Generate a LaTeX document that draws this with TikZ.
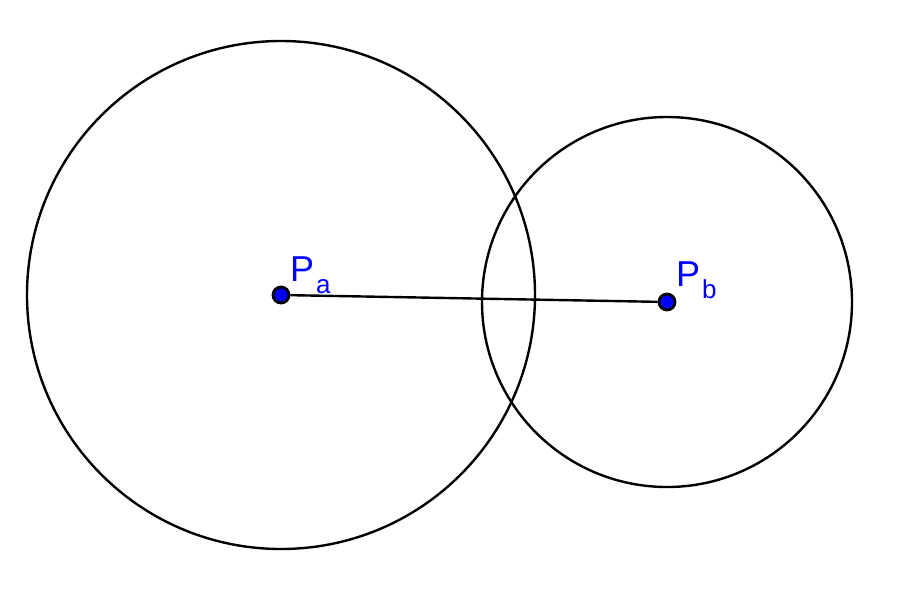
\documentclass[tikz,border=0pt]{standalone}
\usepackage{fontspec}
\setmainfont{Liberation Sans}
\begin{document}
\begin{tikzpicture}[x=1pt,y=-1pt,
  curve/.style={line width=2.4pt,draw=black},
  pt/.style={circle,fill=blue,draw=black,line width=2.8pt,minimum size=16pt,inner sep=0pt},
  lbl/.style={text=blue,font=\fontsize{36}{36}\selectfont,inner sep=0pt,anchor=base west}]
\useasboundingbox (0,0) rectangle (921,614);
\fill[white] (0,0) rectangle (921,614);
\draw[curve] (281,295) circle[radius=254];
\draw[curve] (667,302) circle[radius=185];
\node[pt] (A) at (281,295) {};
\node[pt] (B) at (667,302) {};
\draw[curve] (A) -- (B);
\node[lbl] (la) at (290,281) {P\kern2pt\raisebox{-12pt}{\fontsize{26}{26}\selectfont a}};
\node[lbl] (lb) at (676,286) {P\kern2pt\raisebox{-12pt}{\fontsize{26}{26}\selectfont b}};
\end{tikzpicture}
\end{document}
